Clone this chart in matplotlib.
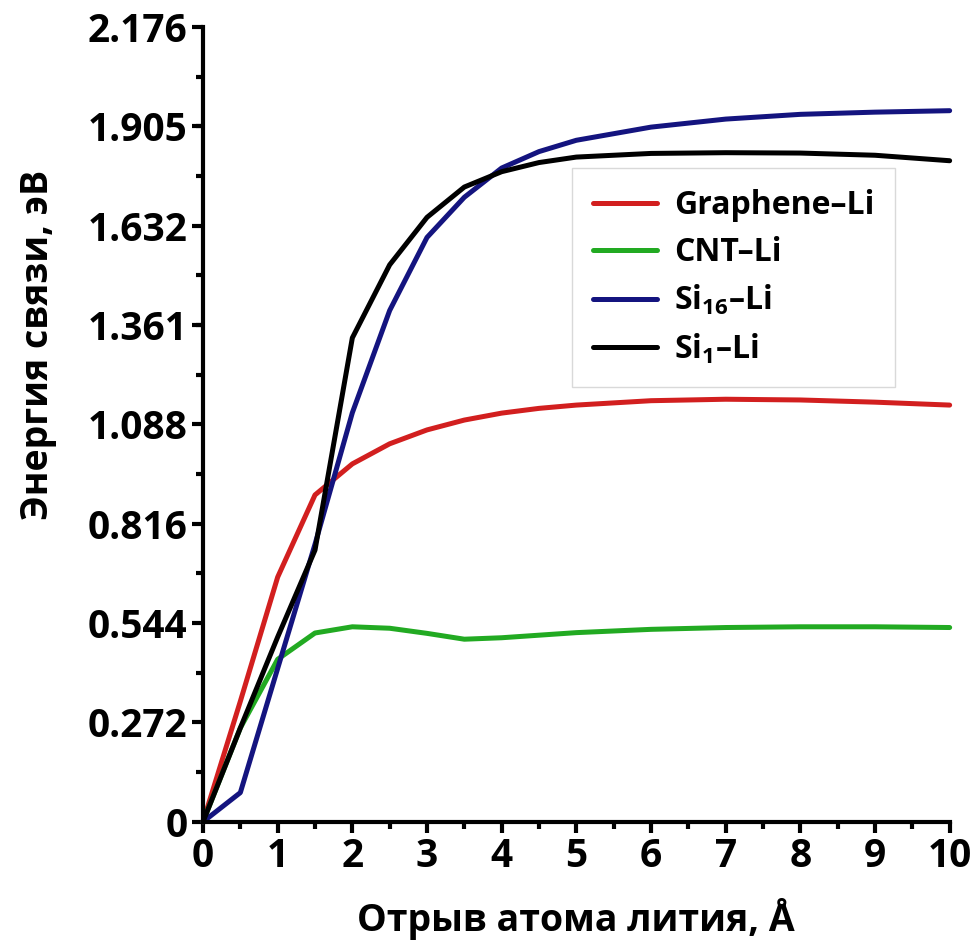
import matplotlib
matplotlib.use("Agg")
import matplotlib.pyplot as plt
from matplotlib.ticker import MultipleLocator, FixedLocator

plt.rcParams["font.family"] = ["Open Sans", "DejaVu Sans"]
plt.rcParams["font.weight"] = "bold"
plt.rcParams["mathtext.fontset"] = "custom"
plt.rcParams["mathtext.rm"] = "Open Sans:bold"
plt.rcParams["mathtext.it"] = "Open Sans:bold"
plt.rcParams["mathtext.bf"] = "Open Sans:bold"

# distance of Li atom, angstrom
x = [0, 0.5, 1, 1.5, 2, 2.5, 3, 3.5, 4, 4.5, 5, 6, 7, 8, 9, 10]

graphene_li = [0, 0.33, 0.67, 0.895, 0.98, 1.035, 1.073, 1.10, 1.119, 1.132,
               1.141, 1.153, 1.157, 1.155, 1.149, 1.141]
cnt_li = [0, 0.257, 0.445, 0.517, 0.534, 0.53, 0.516, 0.50, 0.504, 0.511,
          0.518, 0.527, 0.532, 0.534, 0.534, 0.532]
si16_li = [0, 0.08, 0.42, 0.76, 1.12, 1.40, 1.60, 1.71, 1.79, 1.835,
           1.866, 1.902, 1.924, 1.937, 1.943, 1.947]
si1_li = [0, 0.257, 0.506, 0.744, 1.325, 1.525, 1.655, 1.738, 1.78, 1.805,
          1.82, 1.83, 1.832, 1.831, 1.825, 1.81]

labels = ["Graphene–Li", "CNT–Li", "Si$_{16}$–Li", "Si$_{1}$–Li"]
colors = ["#d21f1f", "#22aa22", "#14147f", "#000000"]
yticks = [0, 0.272, 0.544, 0.816, 1.088, 1.361, 1.632, 1.905, 2.176]

fig = plt.figure(figsize=(9.76, 9.49), dpi=100)
ax = fig.add_axes([0.208, 0.134, 0.765, 0.8375])

for ys, lab, c in zip([graphene_li, cnt_li, si16_li, si1_li], labels, colors):
    ax.plot(x, ys, color=c, lw=3.6, label=lab, solid_capstyle="round",
            solid_joinstyle="round", clip_on=False)

ax.set_xlim(0, 10)
ax.set_ylim(0, 2.176)
ax.xaxis.set_major_locator(MultipleLocator(1))
ax.xaxis.set_minor_locator(MultipleLocator(0.5))
ax.yaxis.set_major_locator(FixedLocator(yticks))
ax.yaxis.set_minor_locator(MultipleLocator(0.136))
ax.set_yticklabels(["0" if v == 0 else f"{v:.3f}" for v in yticks])

for s in ["top", "right"]:
    ax.spines[s].set_visible(False)
for s in ["left", "bottom"]:
    ax.spines[s].set_linewidth(3)
ax.tick_params(which="major", direction="out", length=8, width=3,
               labelsize=28, pad=3)
ax.tick_params(which="minor", direction="out", length=5, width=3)

ax.set_xlabel("Отрыв атома лития, Å", fontsize=27, fontweight="bold", labelpad=16)
ax.set_ylabel("Энергия связи, эВ", fontsize=27, fontweight="bold")
ax.yaxis.set_label_coords(-0.195, 0.60)

leg = ax.legend(loc="upper left", bbox_to_anchor=(0.586, 0.823),
                bbox_transform=fig.transFigure, fontsize=23, frameon=True,
                fancybox=False, edgecolor="#d0d0d0", handlelength=2.0,
                handletextpad=0.55, labelspacing=0.45, borderpad=0.65,
                borderaxespad=0)
leg.get_frame().set_linewidth(1)

fig.savefig("out.png", dpi=100)
